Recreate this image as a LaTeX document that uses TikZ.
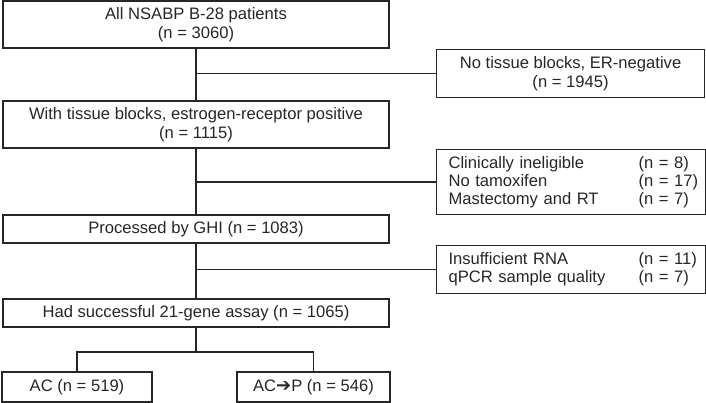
\documentclass[tikz,border=0pt]{standalone}
\usepackage{fontspec}
\setmainfont{Liberation Sans}
\newfontfamily\arrowfont{DejaVu Sans}
\usepackage{tikz}

\tikzset{
    box/.style={draw=black!85, text=black!85, line width=1.1pt, inner sep=0pt, align=center, font=\fontsize{16.6}{19.5}\selectfont},
    side/.style={box, anchor=north west, minimum width=269pt, inner xsep=12pt, text width=245pt, align=left, font=\fontsize{16.6}{18}\selectfont},
    link/.style={draw=black!85, line width=1.1pt},
}
\newcommand{\tab}[2]{\makebox[190pt][l]{#1}\rlap{#2}}

\begin{document}
\begin{tikzpicture}[x=1pt, y=-1pt]
    \useasboundingbox (0, 0) rectangle (706, 403);
    \node[box, minimum width=386pt, minimum height=47pt] (all) at (196, 24.5) {All NSABP B-28 patients\\(n = 3060)};
    \node[box, minimum width=386pt, minimum height=47pt] (pos) at (196, 124.5) {With tissue blocks, estrogen-receptor positive\\(n = 1115)};
    \node[box, minimum width=386pt, minimum height=28pt] (ghi) at (196, 229) {Processed by GHI (n = 1083)};
    \node[box, minimum width=386pt, minimum height=28pt] (assay) at (196, 313) {Had successful 21-gene assay (n = 1065)};
    \node[box, minimum width=150pt, minimum height=30pt] (ac) at (77, 387) {AC (n = 519)};
    \node[box, minimum width=153pt, minimum height=30pt] (acp) at (313.5, 387) {AC{\arrowfont\fontsize{18}{18}\selectfont ➔}P (n = 546)};
    \node[box, anchor=north west, minimum width=268pt, minimum height=48pt] (neg) at (436, 49) {No tissue blocks, ER-negative\\(n = 1945)};
    \node[side, minimum height=65pt] (inelig) at (436, 149) {\tab{Clinically ineligible}{(n = 8)}\\\tab{No tamoxifen}{(n = 17)}\\\tab{Mastectomy and RT}{(n = 7)}};
    \node[side, minimum height=48pt] (rna) at (436, 245) {\tab{Insufficient RNA}{(n = 11)}\\\tab{qPCR sample quality}{(n = 7)}};
    \coordinate (split) at (196, 352);
    \draw[link] (all.south) -- (pos.north);
    \draw[link] (pos.south) -- (ghi.north);
    \draw[link] (ghi.south) -- (assay.north);
    \draw[link] (assay.south) -- (split);
    \draw[link] (ac.north) |- (split) -| (acp.north);
    \draw[link] (all.south |- neg.west) -- (neg.west);
    \draw[link] (pos.south |- inelig.west) -- (inelig.west);
    \draw[link] (ghi.south |- rna.west) -- (rna.west);
\end{tikzpicture}
\end{document}
